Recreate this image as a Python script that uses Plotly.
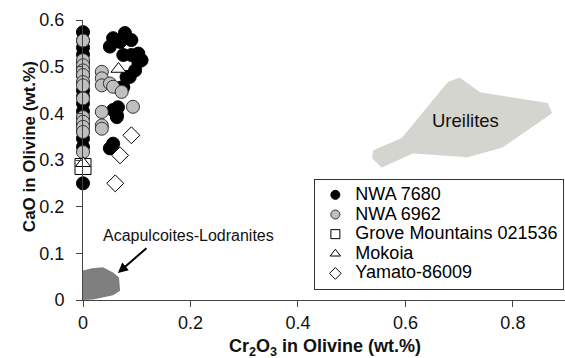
import plotly.graph_objects as go

# ---- data ----
nwa7680_x = [0, 0, 0, 0, 0, 0, 0, 0, 0, 0, 0, 0, 0, 0, 0, 0, 0, 0,
             0.056, 0.078, 0.09, 0.069, 0.05, 0.075, 0.09, 0.103, 0.109, 0.103,
             0.097, 0.087, 0.081, 0.075, 0.07, 0.065, 0.056, 0.063, 0.063, 0.056, 0.05]
nwa7680_y = [0.574, 0.556, 0.541, 0.526, 0.51, 0.494, 0.481, 0.466, 0.449, 0.436, 0.421,
             0.404, 0.391, 0.376, 0.361, 0.346, 0.328, 0.25,
             0.561, 0.572, 0.557, 0.553, 0.543, 0.525, 0.525, 0.528, 0.514, 0.51,
             0.492, 0.478, 0.478, 0.456, 0.455, 0.413, 0.407, 0.392, 0.396, 0.335, 0.325]

nwa6962_x = [0, 0, 0, 0, 0, 0, 0, 0, 0, 0, 0, 0, 0,
             0.035, 0.035, 0.035, 0.05, 0.056, 0.072, 0.035, 0.035, 0.035, 0.093]
nwa6962_y = [0.556, 0.514, 0.503, 0.492, 0.482, 0.467, 0.46, 0.432, 0.392, 0.382, 0.371, 0.36, 0.317,
             0.489, 0.475, 0.46, 0.464, 0.457, 0.446, 0.403, 0.374, 0.367, 0.414]

grove_x = [0]
grove_y = [0.286]

mokoia_x = [0, 0.066]
mokoia_y = [0.293, 0.495]

yamato_x = [0.09, 0.069, 0.06]
yamato_y = [0.353, 0.31, 0.25]

ureilite_x = [0.701, 0.739, 0.865, 0.873, 0.781, 0.716, 0.614, 0.556, 0.538, 0.540, 0.593, 0.679]
ureilite_y = [0.477, 0.445, 0.422, 0.400, 0.327, 0.306, 0.314, 0.284, 0.304, 0.321, 0.347, 0.467]

acapulco_x = [0, 0.017, 0.037, 0.056, 0.067, 0.069, 0.056, 0.019, 0]
acapulco_y = [0.063, 0.068, 0.07, 0.059, 0.048, 0.020, 0.010, 0.001, 0]

x_ticks = [0, 0.2, 0.4, 0.6, 0.8]
x_ticklabels = ["0", "0.2", "0.4", "0.6", "0.8"]
y_ticks = [0, 0.1, 0.2, 0.3, 0.4, 0.5, 0.6]
y_ticklabels = ["0", "0.1", "0.2", "0.3", "0.4", "0.5", "0.6"]

FONT = "Arial, 'Liberation Sans', sans-serif"
LEG_TXT = '<span style="font-size:18px">%s</span>'

fig = go.Figure()

# fields
fig.add_trace(go.Scatter(x=ureilite_x, y=ureilite_y, fill="toself", mode="lines",
                         line=dict(width=0), fillcolor="#d5d5d0", showlegend=False, hoverinfo="skip"))
fig.add_trace(go.Scatter(x=acapulco_x, y=acapulco_y, fill="toself", mode="lines",
                         line=dict(width=0), fillcolor="#7f7f7f", showlegend=False, hoverinfo="skip"))

series = [
    ("NWA 7680", nwa7680_x, nwa7680_y, "circle", "#000000", "#000000", 13),
    ("NWA 6962", nwa6962_x, nwa6962_y, "circle", "#bfbfbf", "#333333", 13),
    ("Grove Mountains 021536", grove_x, grove_y, "square", "#ffffff", "#000000", 16),
    ("Mokoia", mokoia_x, mokoia_y, "triangle-up", "#ffffff", "#000000", 13),
    ("Yamato-86009", yamato_x, yamato_y, "diamond", "#ffffff", "#000000", 13),
]
for name, xs, ys, sym, fc, lc, sz in series:
    fig.add_trace(go.Scatter(x=xs, y=ys, mode="markers", legendgroup=name, showlegend=False,
                             cliponaxis=False,
                             marker=dict(symbol=sym, size=sz, color=fc, line=dict(color=lc, width=1))))
for name, xs, ys, sym, fc, lc, sz in series:
    fig.add_trace(go.Scatter(x=[None], y=[None], mode="markers", legendgroup=name,
                             name=LEG_TXT % name, showlegend=True,
                             marker=dict(symbol=sym, size=9, color=fc, line=dict(color=lc, width=1))))

fig.update_layout(
    width=565, height=358,
    margin=dict(l=83, r=0, t=20, b=58, autoexpand=False),
    paper_bgcolor="white", plot_bgcolor="white",
    font=dict(family=FONT, size=18, color="#111111"),
    showlegend=True,
    legend=dict(x=0.48, y=0.432, xanchor="left", yanchor="top",
                bgcolor="white", bordercolor="#333333", borderwidth=1,
                font=dict(family=FONT, size=12.8, color="#000000"),
                itemwidth=30, tracegroupgap=0),
    xaxis=dict(range=[0, 0.897], tickvals=x_ticks, ticktext=x_ticklabels,
               showgrid=False, zeroline=False, showline=True, linecolor="#444444", linewidth=1,
               ticks="outside", ticklen=6, tickcolor="#444444",
               tickfont=dict(size=18, color="#111111")),
    yaxis=dict(range=[0, 0.6], tickvals=y_ticks, ticktext=y_ticklabels,
               showgrid=False, zeroline=False, showline=True, linecolor="#444444", linewidth=1,
               ticks="outside", ticklen=6, tickcolor="#444444", ticklabelstandoff=8,
               tickfont=dict(size=18, color="#111111")),
    annotations=[
        dict(text="<b>Cr<sub>2</sub>O<sub>3</sub> in Olivine (wt.%)</b>", xref="paper", yref="paper",
             x=0.502, y=-0.171, xanchor="center", yanchor="middle", showarrow=False,
             font=dict(size=18, color="#111111")),
        dict(text="<b>CaO in Olivine (wt.%)</b>", xref="paper", yref="paper", textangle=-90,
             x=-0.112, y=0.546, xanchor="center", yanchor="middle", showarrow=False,
             font=dict(size=17, color="#111111")),
        dict(text="Ureilites", x=0.711, y=0.385, xref="x", yref="y", showarrow=False,
             font=dict(size=18.5, color="#111111")),
        dict(text="Acapulcoites-Lodranites", x=0.034, y=0.138, xref="x", yref="y",
             xanchor="left", showarrow=False, font=dict(size=16, color="#111111")),
        dict(text="", x=0.065, y=0.058, xref="x", yref="y", showarrow=True,
             ax=30, ay=-26, arrowhead=2, arrowsize=1, arrowwidth=2, arrowcolor="#000000"),
    ],
)

fig.write_html("out.html", config={"displayModeBar": False},
               post_script="document.body.style.margin='0';")
